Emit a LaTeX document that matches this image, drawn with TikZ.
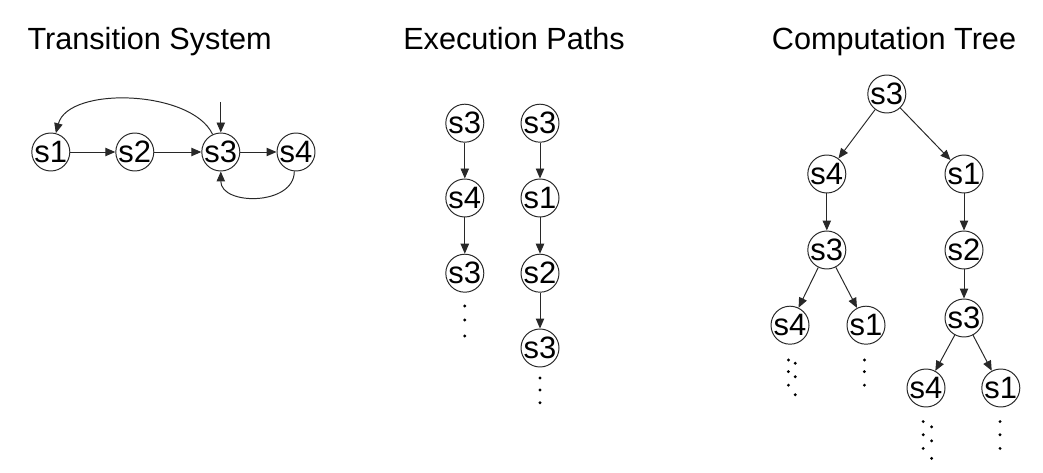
\documentclass[tikz,border=0pt]{standalone}
\usepackage{fontspec}
\setmainfont{Liberation Sans}
\usepackage{xcolor}
\definecolor{lineclr}{RGB}{40,40,40}
\usetikzlibrary{arrows.meta,positioning}

\begin{document}
\begin{tikzpicture}[
  st/.style={draw=lineclr,circle,line width=0.7pt,inner sep=-2.5pt,minimum size=0.95cm,
    font=\fontsize{22}{22}\selectfont},
  ttl/.style={anchor=base,font=\fontsize{21.8}{22}\selectfont},
  arr/.style={-{Triangle[length=2.5mm,width=2.1mm]},line width=0.7pt,draw=lineclr},
  dot/.style={fill=black}
]
  \useasboundingbox (0,0) rectangle (26.075,11.8);

  % Titles
  \node[ttl] (t1) at (3.74,10.55) {Transition System};
  \node[ttl] (t2) at (12.85,10.55) {Execution Paths};
  \node[ttl] (t3) at (22.35,10.55) {Computation Tree};

  % Transition system
  \node[st] (s1) at (1.27,8.0) {s1};
  \node[st] (s2) at (3.37,8.0) {s2};
  \node[st] (s3) at (5.52,8.0) {s3};
  \node[st] (s4) at (7.4,8.0) {s4};
  \coordinate (init) at (5.52,9.25);

  \draw[arr] (init) -- (s3);
  \draw[arr] (s1) -- (s2);
  \draw[arr] (s2) -- (s3);
  \draw[arr] (s3) -- (s4);
  \draw[arr] (s3.115) to[out=115,in=75,looseness=0.8] (s1.75);
  \draw[arr] (s4.-95) to[out=-90,in=-90,looseness=1.2] (s3.-90);

  % Execution paths
  \node[st] (pa1) at (11.62,8.72) {s3};
  \node[st] (pa2) at (11.62,6.85) {s4};
  \node[st] (pa3) at (11.62,4.97) {s3};
  \draw[arr] (pa1) -- (pa2);
  \draw[arr] (pa2) -- (pa3);

  \node[st] (pb1) at (13.5,8.72) {s3};
  \node[st] (pb2) at (13.5,6.85) {s1};
  \node[st] (pb3) at (13.5,4.97) {s2};
  \node[st] (pb4) at (13.5,3.1) {s3};
  \draw[arr] (pb1) -- (pb2);
  \draw[arr] (pb2) -- (pb3);
  \draw[arr] (pb3) -- (pb4);

  \foreach \y in {4.15,3.8,3.4} \fill[dot] (11.62,\y) circle (0.04);
  \foreach \y in {2.35,2.05,1.73} \fill[dot] (13.5,\y) circle (0.04);

  % Computation tree
  \node[st] (r) at (22.17,9.45) {s3};
  \node[st] (a) at (20.67,7.45) {s4};
  \node[st] (b) at (24.1,7.45) {s1};
  \node[st] (c) at (20.67,5.55) {s3};
  \node[st] (d) at (24.1,5.55) {s2};
  \node[st] (e) at (19.75,3.67) {s4};
  \node[st] (f) at (21.65,3.67) {s1};
  \node[st] (g) at (24.1,3.85) {s3};
  \node[st] (h) at (23.15,2.1) {s4};
  \node[st] (i) at (25.02,2.1) {s1};

  \draw[arr] (r) -- (a);
  \draw[arr] (r) -- (b);
  \draw[arr] (a) -- (c);
  \draw[arr] (b) -- (d);
  \draw[arr] (c) -- (e);
  \draw[arr] (c) -- (f);
  \draw[arr] (d) -- (g);
  \draw[arr] (g) -- (h);
  \draw[arr] (g) -- (i);

  % Dots below the leaves
  \foreach \y in {2.8,2.51,2.17} \fill[dot] (19.71,\y) circle (0.04);
  \foreach \y in {2.72,2.38,1.93} \fill[dot] (19.88,\y) circle (0.04);
  \foreach \y in {2.8,2.51,2.17} \fill[dot] (21.61,\y) circle (0.04);
  \foreach \y in {1.26,0.93,0.59} \fill[dot] (23.08,\y) circle (0.04);
  \foreach \y in {1.13,0.78,0.34} \fill[dot] (23.29,\y) circle (0.04);
  \foreach \y in {1.26,0.93,0.59} \fill[dot] (25.0,\y) circle (0.04);
\end{tikzpicture}
\end{document}
